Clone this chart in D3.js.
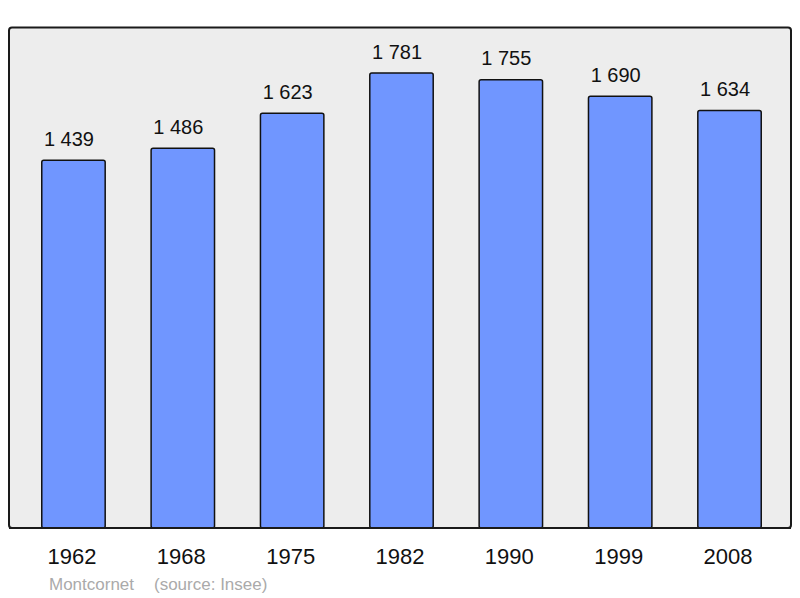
<!DOCTYPE html>
<html>
<head>
<meta charset="utf-8">
<script src="https://cdn.jsdelivr.net/npm/d3@7"></script>
<style>
  body { margin: 0; background: #fff; }
  svg text { font-family: "Liberation Sans", Arial, sans-serif; }
</style>
</head>
<body>
<div id="chart"></div>
<script>
const years = ["1962", "1968", "1975", "1982", "1990", "1999", "2008"];
const population = [1439, 1486, 1623, 1781, 1755, 1690, 1634];
const townName = "Montcornet";
const sourceText = "(source: Insee)";

const width = 800, height = 598;

const svg = d3.select("#chart")
    .append("svg")
    .attr("width", width)
    .attr("height", height);

// panel
svg.append("rect")
    .attr("x", 9)
    .attr("y", 27.5)
    .attr("width", 782)
    .attr("height", 500.5)
    .attr("rx", 3)
    .attr("fill", "#ededed")
    .attr("stroke", "#1a1a1a")
    .attr("stroke-width", 2);

const x = d3.scaleBand()
    .domain(years)
    .range([18.8, 784.2])
    .paddingInner(0.42)
    .paddingOuter(0.21);

const y = d3.scaleLinear()
    .domain([0, d3.max(population) * 1.1])
    .range([528, 27.5]);

const data = years.map((yr, i) => ({ year: yr, value: population[i] }));

svg.selectAll(".bar")
    .data(data)
    .enter().append("rect")
    .attr("class", "bar")
    .attr("x", d => x(d.year))
    .attr("y", d => y(d.value))
    .attr("width", x.bandwidth())
    .attr("height", d => y(0) - y(d.value))
    .attr("rx", 2)
    .attr("fill", "#7096ff")
    .attr("stroke", "#111")
    .attr("stroke-width", 1.5);

// redraw bottom edge of panel over bars
svg.append("line")
    .attr("x1", 9).attr("x2", 791)
    .attr("y1", 528).attr("y2", 528)
    .attr("stroke", "#1a1a1a")
    .attr("stroke-width", 2);

// value labels
svg.selectAll(".val")
    .data(data)
    .enter().append("text")
    .attr("class", "val")
    .attr("x", d => x(d.year) + x.bandwidth() / 2 - 4.5)
    .attr("y", d => y(d.value) - 14.5)
    .attr("text-anchor", "middle")
    .style("font-size", "20px")
    .style("fill", "#111")
    .text(d => d3.format(",")(d.value).replace(",", " "));

// year labels
svg.selectAll(".yr")
    .data(years)
    .enter().append("text")
    .attr("class", "yr")
    .attr("x", d => x(d) + x.bandwidth() / 2 - 1.5)
    .attr("y", 564)
    .attr("text-anchor", "middle")
    .style("font-size", "22px")
    .style("fill", "#111")
    .text(d => d);

// footer
svg.append("text")
    .attr("x", 49)
    .attr("y", 590)
    .style("font-size", "17px")
    .style("fill", "#aaa")
    .text(townName);

svg.append("text")
    .attr("x", 154)
    .attr("y", 590)
    .style("font-size", "17px")
    .style("fill", "#aaa")
    .text(sourceText);
</script>
</body>
</html>
